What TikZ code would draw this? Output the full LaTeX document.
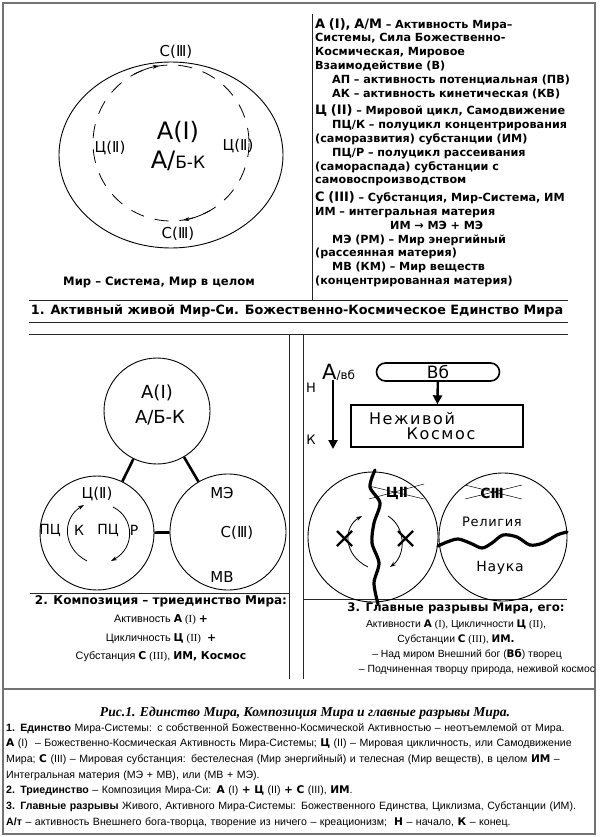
\documentclass[tikz,border=0pt]{standalone}
\usepackage{fontspec}
\setmainfont{Liberation Sans}
\newfontfamily\handfont{DejaVu Sans}
\newfontfamily\heavyfont{DejaVu Sans}
\newfontfamily\romfont{Liberation Serif}
\usetikzlibrary{arrows.meta, positioning}
\newcommand{\blk}[1]{{\heavyfont\bfseries #1}}

\tikzset{
  frameline/.style={draw=black!55, line width=1.2pt},
  rule/.style={draw=black!85, line width=0.9pt},
  world/.style={draw, circle, line width=0.9pt, inner sep=0pt},
  bond/.style={line width=2.6pt},
  hand/.style={font=\handfont\fontsize{15}{17}\selectfont, inner sep=0pt},
  turn/.style={line width=0.8pt, -{Stealth[length=6pt, width=4pt]}},
  crack/.style={line width=3.2pt, line cap=round, line join=round},
  strike/.style={line width=0.5pt},
  cross/.style={line width=2.2pt},
  bigarrow/.style={line width=2.4pt, -{Triangle[length=9pt, width=9pt]}},
  legendtext/.style={font=\heavyfont\bfseries\fontsize{11.2}{13.8}\selectfont, text width=262pt, align=left, inner sep=0pt},
  paneltitle/.style={font=\heavyfont\bfseries\fontsize{12}{14}\selectfont, inner sep=0pt},
}

\begin{document}
\begin{tikzpicture}[x=1pt, y=-1pt]
\useasboundingbox (0,0) rectangle (600,837);

% frame and rules
\draw[frameline] (3,3) rectangle (595,834);
\draw[frameline] (3,689) -- (595,689);
\draw[rule] (312,14) -- (312,300);
\draw[rule] (29,300) -- (568,300);
\draw[rule] (29,322) -- (568,322);
\draw[rule] (29,334) -- (568,334);
\draw[rule] (289,334) -- (289,679);
\draw[rule] (303,334) -- (303,679);
\draw[rule] (30,593) -- (289,593);
\draw[rule] (303,599) -- (567,599);

% World-System circle
\draw[line width=0.9pt] (171,155) ellipse [x radius=112, y radius=93];
\draw[line width=0.8pt, dash pattern=on 14pt off 11pt] (171,143) circle [radius=78];
\draw[turn] (171,143) ++(-118:78) arc[start angle=-118, end angle=-99, radius=78];
\draw[turn] (171,143) ++(60:78) arc[start angle=60, end angle=81, radius=78];
\node[hand] (ctop) at (176,52) {С(Ⅲ)};
\node[hand] (cbot) at (178,234) {С(Ⅲ)};
\node[hand] (cleft) at (110,148) {Ц(Ⅱ)};
\node[hand] (cright) at (238,146) {Ц(Ⅱ)};
\node[hand, font=\handfont\fontsize{24}{24}\selectfont] (core) at (178,132) {А(Ⅰ)};
\node[hand, below=8pt of core] (corebk) {{\fontsize{24}{24}\selectfont А/}{\fontsize{17}{17}\selectfont Б-К}};
\node[paneltitle, font=\heavyfont\bfseries\fontsize{11.6}{13}\selectfont] (wtitle) at (159,282) {Мир – Система, Мир в целом};

% legend
\node[legendtext, anchor=north west] (legend) at (315,18) {%
{\fontsize{13}{14}\selectfont А (I), А/М} – Активность Мира–\\
Системы, Сила Божественно-\\
Космическая, Мировое\\
Взаимодействие (В)\\
\hspace*{17pt}АП – активность потенциальная (ПВ)\\
\hspace*{17pt}АК – активность кинетическая (КВ)\\[4pt]
{\fontsize{13}{14}\selectfont Ц (II)} – Мировой цикл, Самодвижение\\
\hspace*{17pt}ПЦ/К – полуцикл концентрирования\\
(саморазвития) субстанции (ИМ)\\
\hspace*{17pt}ПЦ/Р – полуцикл рассеивания\\
(самораспада) субстанции с\\
самовоспроизводством\\[4pt]
{\fontsize{13}{14}\selectfont С (III)} – Субстанция, Мир-Система, ИМ\\
ИМ – интегральная материя\\
\hspace*{75pt}ИМ → МЭ + МЭ\\
\makebox[256pt][s]{\hspace*{17pt}МЭ (РМ) – Мир энергийный}\\
(рассеянная материя)\\
\makebox[256pt][s]{\hspace*{17pt}МВ (КМ) – Мир веществ}\\
(концентрированная материя)};

% title band
\node[paneltitle, font=\heavyfont\bfseries\fontsize{12.8}{14}\selectfont] (band) at (297,311) {1. Активный живой Мир-Си. Божественно-Космическое Единство Мира};

% Composition: three worlds
\node[world, minimum size=106pt] (act) at (157,411) {};
\node[world, minimum size=114pt] (cyc) at (97,533) {};
\node[world, minimum size=116pt] (sub) at (228,532) {};
\draw[bond] (act) -- (cyc);
\draw[bond] (act) -- (sub);
\draw[bond] (cyc) -- (sub);
\node[hand, font=\handfont\fontsize{18}{18}\selectfont] (acta) at (157,393) {А(Ⅰ)};
\node[hand, font=\handfont\fontsize{18}{18}\selectfont] (actb) at (160,418) {А/Б-К};
\node[hand] (cyct) at (97,494) {Ц(Ⅱ)};
\node[hand, font=\handfont\fontsize{14}{14}\selectfont] (pck) at (50,530) {ПЦ};
\node[hand, font=\handfont\fontsize{14}{14}\selectfont] (kk) at (79,530) {К};
\node[hand, font=\handfont\fontsize{14}{14}\selectfont] (pcr) at (108,530) {ПЦ};
\node[hand, font=\handfont\fontsize{14}{14}\selectfont] (rr) at (134,530) {Р};
\draw[turn] (87,561) .. controls (62,548) and (62,518) .. (84,505);
\draw[turn] (113,507) .. controls (135,518) and (135,548) .. (111,561);
\node[hand] (me) at (222,493) {МЭ};
\node[hand] (subc) at (237,533) {С(Ⅲ)};
\node[hand] (mv) at (222,577) {МВ};

\node[anchor=north, align=center, inner sep=0pt, font=\fontsize{10.8}{18.5}\selectfont] (comp) at (161,595) {%
\blk{\fontsize{12}{14}\selectfont 2. Композиция – триединство Мира:}\\
Активность \blk{А} {\romfont (I)} \blk{+}\\
Цикличность \blk{Ц} {\romfont (II)} \ \blk{+}\\
Субстанция \blk{С} {\romfont (III)}, \blk{ИМ, Космос}};

% Breaks of the World
\node[hand, font=\handfont\fontsize{13}{13}\selectfont] (nach) at (311,388) {Н};
\node[hand, font=\handfont\fontsize{13}{13}\selectfont] (kon) at (311,440) {К};
\node[hand, anchor=south west] (ext) at (322,381) {{\fontsize{21}{21}\selectfont А}{\fontsize{12}{12}\selectfont /вб}};
\coordinate (kend) at (333,449);
\draw[bigarrow] (333,380) -- (kend);
\node[draw, rounded corners=9pt, line width=1.6pt, minimum width=123pt, minimum height=18pt, hand, font=\handfont\fontsize{17}{17}\selectfont] (god) at (438,372) {Вб};
\node[draw, line width=1.4pt, minimum width=172pt, minimum height=42pt, align=center, hand, font=\handfont\fontsize{16}{15}\selectfont\addfontfeature{LetterSpace=10}] (cosmos) at (437,426) {\hspace*{-50pt}Неживой\\\hspace*{8pt}Космос};
\draw[bigarrow] (god) -- (cosmos);

\node[world, minimum size=130pt] (split) at (373,537) {};
\node[world, minimum size=128pt] (faith) at (503,537) {};
\node[hand, font=\handfont\bfseries\fontsize{14}{14}\selectfont] (cycx) at (397,493) {ЦⅡ};
\draw[strike] (369,486) -- (424,499) (369,499) -- (424,484);
\node[hand, font=\handfont\bfseries\fontsize{14}{14}\selectfont] (subx) at (492,493) {СⅢ};
\draw[strike] (465,485) -- (522,499) (465,499) -- (522,485);
\draw[turn] (368,567) .. controls (343,555) and (343,527) .. (362,516);
\draw[turn] (388,516) .. controls (406,527) and (406,555) .. (390,567);
\draw[cross] (337,531) -- (352,546) (337,546) -- (352,531);
\draw[cross] (398,531) -- (413,546) (398,546) -- (413,531);
\draw[crack] plot[smooth] coordinates {(375,470) (370,487) (380,503) (374,523) (372,543) (379,563) (374,583) (378,604)};
\draw[crack] plot[smooth] coordinates {(438,546) (447,542) (458,539) (470,543) (482,548) (492,543) (503,535) (517,537) (530,545) (543,543) (557,535) (567,532)};
\node[hand, font=\handfont\fontsize{13}{13}\selectfont\addfontfeature{LetterSpace=5}] (rel) at (492,522) {Религия};
\node[hand, font=\handfont\fontsize{14}{14}\selectfont\addfontfeature{LetterSpace=5}] (sci) at (500,568) {Наука};

\node[anchor=north, align=center, inner sep=0pt, font=\fontsize{10.4}{15}\selectfont] (breaks) at (456,603) {%
\blk{\fontsize{11.8}{14}\selectfont 3. Главные разрывы Мира, его:}\\[1pt]
Активности \blk{А} {\romfont (I)}, Цикличности \blk{Ц} {\romfont (II)},\\
Субстанции \blk{С} {\romfont (III)}, \blk{ИМ.}\\
\hspace*{22pt}– Над миром Внешний бог (\blk{Вб}) творец\\
\hspace*{42pt}– Подчиненная творцу природа, неживой космос};

% figure caption
\node[font=\romfont\bfseries\itshape\fontsize{13.6}{15}\selectfont, inner sep=0pt] (figcap) at (305,713) {Рис.1. Единство Мира, Композиция Мира и главные разрывы Мира.};
\node[anchor=north west, inner sep=0pt, text width=589pt, align=left, font=\fontsize{10.6}{15.7}\selectfont] (notes) at (6,723) {%
\textbf{1. Единство} Мира-Системы: с собственной Божественно-Космической Активностью – неотъемлемой от Мира.\\
\makebox[589pt][s]{\blk{А} (I) \ – Божественно-Космическая Активность Мира-Системы; \blk{Ц} (II) – Мировая цикличность, или Самодвижение}\\
\makebox[589pt][s]{Мира; \blk{С} (III) – Мировая субстанция: бестелесная (Мир энергийный) и телесная (Мир веществ), в целом \blk{ИМ} –}\\
Интегральная материя (МЭ + МВ), или (МВ + МЭ).\\
\textbf{2. Триединство} – Композиция Мира-Си: \blk{А} (I) \blk{+ Ц} (II) \blk{+ С} (III), \blk{ИМ}.\\
\textbf{3. Главные разрывы} Живого, Активного Мира-Системы: Божественного Единства, Циклизма, Субстанции (ИМ).\\
\textbf{А/т} – активность Внешнего бога-творца, творение из ничего – креационизм; \ \blk{Н} – начало, \blk{К} – конец.};
\end{tikzpicture}
\end{document}
